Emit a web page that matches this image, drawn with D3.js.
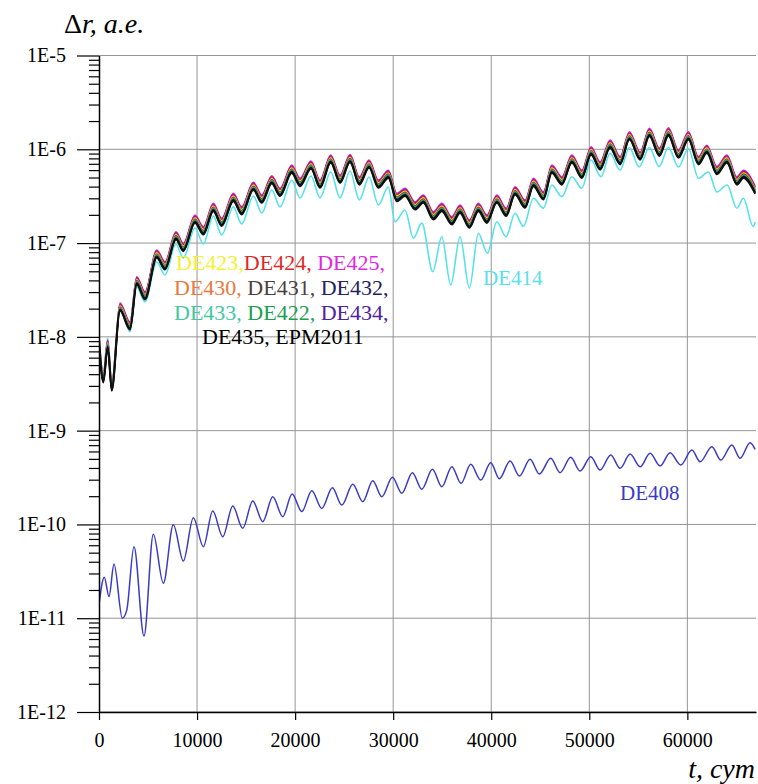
<!DOCTYPE html>
<html>
<head>
<meta charset="utf-8">
<script src="https://cdn.jsdelivr.net/npm/d3@7"></script>
<style>
  body { margin: 0; background: #fff; }
  svg, svg text, svg tspan { font-family: "Liberation Serif", "Times New Roman", "DejaVu Serif", serif !important; }
</style>
</head>
<body>
<div id="chart"></div>
<script>
// -- DATA: [t (days), delta r (a.u.)] -- //
// common band of the modern ephemerides (value for the middle of the bundle)
const bandPoints = [
  [0, 9.3e-9], [440, 3.5e-9], [890, 8.2e-9], [1300, 2.85e-9], [2140, 2.03e-8],
  [3160, 1.28e-8], [3850, 3.88e-8], [4690, 2.68e-8], [5890, 7.47e-8], [6730, 5.6e-8],
  [7850, 1.17e-7], [8600, 8.8e-8], [9790, 1.76e-7], [10640, 1.32e-7], [11660, 2.35e-7],
  [12510, 1.63e-7], [13700, 3.0e-7], [14550, 2.16e-7], [15740, 3.94e-7], [16600, 2.88e-7],
  [17620, 4.63e-7], [18460, 3.4e-7], [19660, 6.0e-7], [20500, 4.34e-7], [21620, 6.64e-7],
  [22540, 4.16e-7], [23630, 7.7e-7], [24580, 4.7e-7], [25600, 7.8e-7], [26550, 4.5e-7],
  [27540, 6.8e-7], [28490, 4.16e-7], [29510, 5.3e-7], [30370, 3.0e-7], [31210, 3.4e-7],
  [32230, 2.44e-7], [33080, 2.88e-7], [34100, 1.91e-7], [34960, 2.35e-7], [35980, 1.69e-7],
  [36820, 2.25e-7], [37770, 1.56e-7], [38690, 2.35e-7], [39550, 1.76e-7], [40570, 2.88e-7],
  [41520, 2.08e-7], [42430, 3.53e-7], [43450, 2.55e-7], [44300, 4.34e-7], [45320, 3.12e-7],
  [46180, 6.0e-7], [47200, 4.5e-7], [48220, 7.7e-7], [49240, 5.3e-7], [50180, 9.4e-7],
  [51100, 6.5e-7], [52120, 1.11e-6], [53140, 7.4e-7], [54090, 1.36e-6], [55180, 8.3e-7],
  [56130, 1.48e-6], [57150, 9.1e-7], [58070, 1.5e-6], [59090, 8.7e-7], [60110, 1.36e-6],
  [61130, 7.4e-7], [61990, 9.8e-7], [63010, 5.8e-7], [64030, 7.7e-7], [65050, 4.5e-7],
  [65720, 5.3e-7], [66910, 3.6e-7]
];

// ephemerides of the band, their colours and how far each sits from the band middle
const bandNames  = ["DE425", "DE434", "DE424", "DE423", "DE430", "DE431", "DE433", "DE422", "DE432", "DE435", "EPM2011"];
const bandColors = ["#e020e0", "#5a2aa8", "#e02828", "#f0f020", "#ea7a3a", "#5a4646", "#3cc8a0", "#1e9e50", "#24245e", "#000000", "#111111"];
const bandShift  = [1.13, 1.10, 1.08, 1.05, 1.03, 1.02, 1.0, 0.99, 0.97, 0.95, 0.93];

const de414Points = [
  [0, 8.2e-9], [440, 4.2e-9], [890, 9.7e-9], [1300, 3.07e-9], [2140, 2.14e-8],
  [3160, 1.13e-8], [3850, 3.4e-8], [4690, 2.36e-8], [5890, 6.29e-8], [6730, 4.57e-8],
  [7850, 9.78e-8], [8600, 6.94e-8], [9790, 1.45e-7], [10640, 9.78e-8], [11660, 1.945e-7],
  [12510, 1.22e-7], [13700, 2.43e-7], [14550, 1.6e-7], [15740, 3.18e-7], [16600, 2.09e-7],
  [17620, 3.68e-7], [18460, 2.43e-7], [19660, 4.71e-7], [20500, 3.03e-7], [21620, 5.19e-7],
  [22540, 3.03e-7], [23630, 5.73e-7], [24580, 3.03e-7], [25600, 5.87e-7], [26550, 2.88e-7],
  [27540, 5.07e-7], [28490, 2.55e-7], [29510, 3.96e-7], [30190, 1.69e-7], [31210, 2.25e-7],
  [32060, 1.125e-7], [32920, 1.63e-7], [34040, 4.96e-8], [34960, 1.17e-7], [35870, 3.58e-8],
  [36820, 1.17e-7], [37770, 3.3e-8], [38690, 1.27e-7], [39610, 7.79e-8], [40570, 1.69e-7],
  [41510, 1.17e-7], [42430, 2.08e-7], [43280, 1.5e-7], [44300, 3.0e-7], [45320, 2.35e-7],
  [46180, 4.16e-7], [47200, 3.12e-7], [48220, 5.1e-7], [49240, 3.84e-7], [50180, 7.69e-7],
  [51200, 5.1e-7], [52120, 9.07e-7], [53140, 6.0e-7], [54090, 1.045e-6], [55080, 6.48e-7],
  [56130, 1.045e-6], [57120, 6.53e-7], [58070, 1.045e-6], [59090, 6.48e-7], [60110, 1.02e-6],
  [61130, 4.91e-7], [62150, 5.73e-7], [63010, 3.51e-7], [64060, 4.16e-7], [65050, 2.35e-7],
  [65720, 3.0e-7], [66710, 1.5e-7], [66910, 1.68e-7]
];

const de408Points = [
  [0, 1.4e-11], [540, 2.73e-11], [1020, 1.7e-11], [1530, 3.78e-11], [2380, 1.0e-11],
  [2830, 1.22e-11], [3570, 5.79e-11], [4590, 6.46e-12], [5540, 7.85e-11], [6560, 2.36e-11],
  [7580, 9.9e-11], [8600, 4.07e-11], [9620, 1.18e-10], [10640, 5.79e-11], [11600, 1.39e-10],
  [12620, 7.4e-11], [13640, 1.57e-10], [14660, 9.09e-11], [15680, 1.78e-10], [16700, 1.07e-10],
  [17720, 1.97e-10], [18740, 1.21e-10], [19690, 2.11e-10], [20680, 1.37e-10], [21700, 2.29e-10],
  [22720, 1.48e-10], [23800, 2.46e-10], [24760, 1.61e-10], [25880, 2.68e-10], [26900, 1.75e-10],
  [27920, 2.92e-10], [28840, 1.97e-10], [29920, 3.18e-10], [30880, 2.15e-10], [31960, 3.56e-10],
  [32920, 2.37e-10], [34000, 3.87e-10], [34960, 2.52e-10], [35980, 4.12e-10], [36920, 2.74e-10],
  [37910, 4.37e-10], [38930, 2.97e-10], [39950, 4.55e-10], [40830, 3.07e-10], [41920, 4.74e-10],
  [42870, 3.28e-10], [43960, 4.94e-10], [44910, 3.45e-10], [46070, 5.07e-10], [47020, 3.56e-10],
  [48110, 5.19e-10], [49060, 3.71e-10], [50150, 5.27e-10], [51100, 3.8e-10], [52190, 5.5e-10],
  [53140, 3.96e-10], [54160, 5.63e-10], [55180, 4.12e-10], [56200, 5.73e-10], [57220, 4.2e-10],
  [58240, 5.81e-10], [59330, 4.3e-10], [60460, 6.21e-10], [61300, 4.66e-10], [62500, 6.74e-10],
  [63410, 4.86e-10], [64540, 7.02e-10], [65380, 5.07e-10], [66400, 7.43e-10], [66910, 6.32e-10]
];

const xTicks = [0, 10000, 20000, 30000, 40000, 50000, 60000];
const yDecades = [1e-12, 1e-11, 1e-10, 1e-9, 1e-8, 1e-7, 1e-6, 1e-5];

// -- CHART -- //
const width = 758, height = 784;
const plotLeft = 99, plotRight = 756, plotTop = 55.5, plotBottom = 712;
const serif = "'Liberation Serif', 'Times New Roman', 'DejaVu Serif', serif";

const svg = d3.select("#chart").append("svg")
  .attr("width", width)
  .attr("height", height)
  .attr("font-family", serif);

const x = d3.scaleLinear().domain([0, 67000]).range([plotLeft, plotRight]);
const y = d3.scaleLog().domain([1e-12, 1e-5]).range([plotBottom, plotTop]);

// minor ticks 2..9 of every decade
let yMinor = [];
yDecades.slice(0, -1).forEach(d => {
  for (let k = 2; k <= 9; k++) yMinor.push(d * k);
});

// grid
svg.append("g")
  .selectAll("line")
  .data(yDecades)
  .enter().append("line")
  .attr("x1", plotLeft).attr("x2", plotRight)
  .attr("y1", d => y(d)).attr("y2", d => y(d))
  .attr("stroke", "#959595").attr("stroke-width", 1);

svg.append("g")
  .selectAll("line")
  .data(xTicks.slice(1))
  .enter().append("line")
  .attr("x1", d => x(d)).attr("x2", d => x(d))
  .attr("y1", plotTop).attr("y2", plotBottom)
  .attr("stroke", "#959595").attr("stroke-width", 1);

// lines
svg.append("clipPath").attr("id", "plotclip")
  .append("rect").attr("x", plotLeft).attr("y", plotTop)
  .attr("width", plotRight - plotLeft).attr("height", plotBottom - plotTop);

const line = d3.line()
  .x(d => x(d[0]))
  .y(d => y(d[1]))
  .curve(d3.curveMonotoneX);

const plot = svg.append("g").attr("clip-path", "url(#plotclip)");

plot.append("path")
  .attr("d", line(de414Points))
  .attr("fill", "none")
  .attr("stroke", "#55e2ea")
  .attr("stroke-width", 1.6);

plot.append("path")
  .attr("d", line(de408Points))
  .attr("fill", "none")
  .attr("stroke", "#3a3ac4")
  .attr("stroke-width", 1.5);

bandNames.forEach((name, i) => {
  plot.append("path")
    .attr("class", "band " + name)
    .attr("d", line(bandPoints.map(p => [p[0], p[1] * bandShift[i]])))
    .attr("fill", "none")
    .attr("stroke", bandColors[i])
    .attr("stroke-width", i >= 9 ? 1.8 : 1.5);
});

// axes
const yMinorAxis = svg.append("g")
  .attr("transform", "translate(" + plotLeft + ",0)")
  .call(d3.axisLeft(y).tickValues(yMinor).tickSize(10).tickFormat(""));
yMinorAxis.select(".domain").remove();

const yAxis = svg.append("g")
  .attr("transform", "translate(" + plotLeft + ",0)")
  .call(d3.axisLeft(y).tickValues(yDecades).tickSize(22).tickSizeOuter(0).tickPadding(11)
    .tickFormat(d => "1E" + Math.round(Math.log10(d))));

const xAxis = svg.append("g")
  .attr("transform", "translate(0," + plotBottom + ")")
  .call(d3.axisBottom(x).tickValues(xTicks).tickSize(8).tickSizeOuter(0).tickPadding(13)
    .tickFormat(d3.format("d")));

svg.selectAll("g").attr("font-family", serif);
svg.selectAll(".domain").attr("stroke", "#000").attr("stroke-width", 1.5);
svg.selectAll(".tick line").attr("stroke", "#000").attr("stroke-width", 1.2);
svg.selectAll(".tick text")
  .attr("fill", "#000")
  .attr("font-size", 20);

// axis titles
const yTitle = svg.append("text")
  .attr("x", 64).attr("y", 33)
  .attr("font-size", 28);
yTitle.append("tspan").text("Δ");
yTitle.append("tspan").attr("font-style", "italic").text("r, а.е.");

svg.append("text")
  .attr("x", 755).attr("y", 778)
  .attr("text-anchor", "end")
  .attr("font-size", 28)
  .attr("font-style", "italic")
  .text("t, сут");

// series labels
const labelRows = [
  { x0: 176, y0: 270, parts: [["DE423,", "#f2f230"], ["DE424, ", "#e02828"], ["DE425,", "#e028e0"]] },
  { x0: 174, y0: 295, parts: [["DE430, ", "#e8783c"], ["DE431, ", "#4e3e3e"], ["DE432,", "#22225e"]] },
  { x0: 174, y0: 320, parts: [["DE433, ", "#40c8a0"], ["DE422, ", "#1e9e50"], ["DE434,", "#4e22a0"]] },
  { x0: 202, y0: 344, parts: [["DE435, EPM2011", "#000000"]] }
];

labelRows.forEach(r => {
  const t = svg.append("text")
    .attr("x", r.x0).attr("y", r.y0)
    .attr("font-size", 22)
    .style("white-space", "pre");
  r.parts.forEach(p => {
    t.append("tspan").attr("fill", p[1]).text(p[0]);
  });
});

svg.append("text")
  .attr("x", 483).attr("y", 285)
  .attr("font-size", 21)
  .attr("fill", "#55e2ea")
  .text("DE414");

svg.append("text")
  .attr("x", 620).attr("y", 500)
  .attr("font-size", 21)
  .attr("fill", "#3a3ac4")
  .text("DE408");
</script>
</body>
</html>
